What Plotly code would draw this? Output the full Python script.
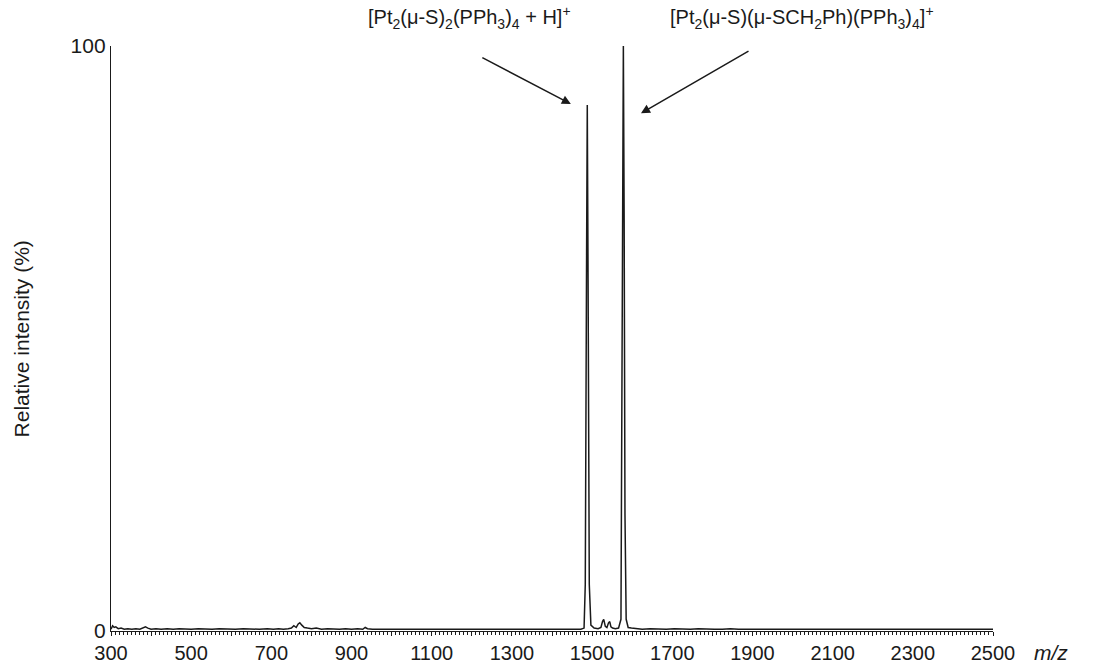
import plotly.graph_objects as go

# m/z values and relative intensity (%)
mz = [300, 304, 308, 312, 318, 325, 333, 342, 352, 362, 372, 380, 386, 392, 400, 412, 425, 440,
      455, 470, 485, 500, 518, 535, 552, 570, 590, 610, 630, 650, 670, 690, 705, 718, 730, 742,
      750, 756, 762, 767, 771, 776, 782, 790, 800, 812, 825, 840, 855, 870, 885, 900, 915, 928,
      934, 940, 952, 968, 985, 1005, 1025, 1045, 1065, 1085, 1105, 1125, 1145, 1165, 1185, 1205,
      1225, 1245, 1265, 1285, 1305, 1325, 1345, 1365, 1385, 1405, 1425, 1445, 1460, 1472, 1480,
      1483, 1486, 1488, 1490, 1493, 1497, 1505, 1515, 1522, 1526, 1529, 1533, 1537, 1541, 1544,
      1547, 1551, 1558, 1566, 1572, 1575, 1578, 1580, 1582, 1585, 1590, 1598, 1610, 1625, 1645,
      1665, 1685, 1705, 1725, 1745, 1765, 1785, 1805, 1825, 1845, 1865, 1885, 1905, 1925, 1945,
      1965, 1985, 2005, 2025, 2045, 2065, 2085, 2105, 2125, 2145, 2165, 2185, 2205, 2225, 2245,
      2265, 2285, 2305, 2325, 2345, 2365, 2385, 2405, 2425, 2445, 2465, 2485, 2500]
intensity = [0.3, 0.9, 0.6, 0.7, 0.4, 0.5, 0.3, 0.4, 0.3, 0.4, 0.3, 0.5, 0.7, 0.5, 0.3, 0.4, 0.3, 0.4,
             0.3, 0.4, 0.3, 0.3, 0.4, 0.3, 0.3, 0.4, 0.3, 0.3, 0.4, 0.3, 0.3, 0.4, 0.3, 0.4, 0.3, 0.4,
             0.5, 0.9, 0.6, 1.2, 1.4, 1.0, 0.6, 0.5, 0.4, 0.5, 0.3, 0.4, 0.3, 0.3, 0.4, 0.3, 0.4, 0.3,
             0.6, 0.4, 0.3, 0.3, 0.4, 0.3, 0.3, 0.4, 0.3, 0.3, 0.3, 0.4, 0.3, 0.3, 0.4, 0.3,
             0.3, 0.3, 0.4, 0.3, 0.3, 0.4, 0.3, 0.3, 0.3, 0.4, 0.3, 0.3, 0.4, 0.3, 0.5,
             8.0, 60.0, 89.9, 60.0, 8.0, 1.0, 0.5, 0.4, 0.6, 1.6, 2.0, 0.8, 0.6, 1.4, 1.6,
             0.7, 0.5, 0.4, 0.5, 2.0, 40.0, 100.0, 70.0, 20.0, 2.0, 0.6, 0.5, 0.4, 0.3, 0.4,
             0.3, 0.3, 0.4, 0.3, 0.3, 0.4, 0.3, 0.3, 0.3, 0.4, 0.3, 0.3, 0.4, 0.3, 0.3,
             0.3, 0.4, 0.3, 0.3, 0.4, 0.3, 0.3, 0.3, 0.4, 0.3, 0.3, 0.4, 0.3, 0.3, 0.3,
             0.4, 0.3, 0.3, 0.4, 0.3, 0.3, 0.3, 0.4, 0.3, 0.3, 0.4, 0.3, 0.3]

x_tickvals = list(range(300, 2501, 100))
x_ticktext = [str(v) if (v - 300) % 200 == 0 else "" for v in x_tickvals]
y_tickvals = [0, 100]
y_ticktext = ["0", "100"]

label_1 = "[Pt<sub>2</sub>(\u03bc-S)<sub>2</sub>(PPh<sub>3</sub>)<sub>4</sub> + H]<sup>+</sup>"
label_2 = "[Pt<sub>2</sub>(\u03bc-S)(\u03bc-SCH<sub>2</sub>Ph)(PPh<sub>3</sub>)<sub>4</sub>]<sup>+</sup>"

FONT = "Liberation Sans, Arial, sans-serif"
INK = "#1a1a1a"

fig = go.Figure()
fig.add_trace(go.Scatter(x=mz, y=intensity, mode="lines",
                         line=dict(color=INK, width=1.5), hoverinfo="skip", showlegend=False))

fig.update_layout(
    width=1094, height=664,
    margin=dict(l=111, r=101, t=46, b=33, autoexpand=False),
    paper_bgcolor="white", plot_bgcolor="white",
    font=dict(family=FONT, color=INK, size=20),
    xaxis=dict(range=[300, 2500], tickmode="array", tickvals=x_tickvals, ticktext=x_ticktext,
               automargin=False,
               showgrid=False, zeroline=False, showline=True, linecolor=INK, linewidth=1.3,
               ticks="outside", ticklen=4, tickcolor=INK, tickwidth=1,
               minor=dict(dtick=10, tick0=300, ticks="outside", ticklen=3, tickcolor=INK, tickwidth=1),
               tickfont=dict(size=20, family=FONT, color=INK)),
    yaxis=dict(range=[0, 100], tickmode="array", tickvals=y_tickvals, ticktext=y_ticktext,
               automargin=False,
               showgrid=False, zeroline=False, showline=True, linecolor=INK, linewidth=1.3,
               ticks="", tickfont=dict(size=21, family=FONT, color=INK)),
    annotations=[
        dict(text="Relative intensity (%)", xref="paper", yref="paper", x=-0.101, y=0.5,
             textangle=-90, showarrow=False, xanchor="center", yanchor="middle",
             font=dict(size=21, family=FONT, color=INK)),
        dict(text="<i>m/z</i>", xref="paper", yref="paper", x=1.066, y=-0.036,
             showarrow=False, xanchor="center", yanchor="middle",
             font=dict(size=21, family=FONT, color=INK)),
        dict(text=label_1, xref="x", yref="paper", x=1193, y=1.048, showarrow=False,
             xanchor="center", yanchor="middle", font=dict(size=20, family=FONT, color=INK)),
        dict(text=label_2, xref="x", yref="paper", x=2024, y=1.048, showarrow=False,
             xanchor="center", yanchor="middle", font=dict(size=20, family=FONT, color=INK)),
        dict(text="", xref="x", yref="y", x=1447, y=90.1, ax=-90, ay=-47,
             showarrow=True, arrowhead=2, arrowsize=1.2, arrowwidth=1.5, arrowcolor=INK),
        dict(text="", xref="x", yref="y", x=1622, y=88.5, ax=109, ay=-63,
             showarrow=True, arrowhead=2, arrowsize=1.2, arrowwidth=1.5, arrowcolor=INK),
    ],
)

fig.write_html("out.html")
